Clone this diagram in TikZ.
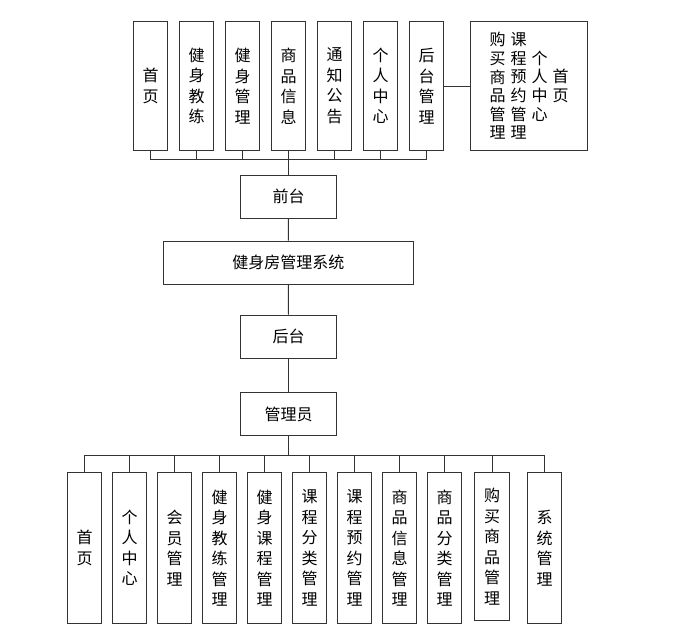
\documentclass[tikz,border=0pt]{standalone}
\usepackage{fontspec}
\setmainfont{Noto Sans CJK SC}
\usetikzlibrary{positioning}

\begin{document}
\begin{tikzpicture}[x=1pt,y=-1pt,
  box/.style={draw=black!80,line width=1pt,fill=white,align=center,inner sep=0pt,
    font=\fontsize{16}{20.5}\selectfont},
  col/.style={box,minimum width=34.5pt,minimum height=128.3pt},
  lowcol/.style={box,minimum width=34.5pt,minimum height=150.6pt},
  mid/.style={box,minimum width=96.4pt,minimum height=43.3pt},
  link/.style={draw=black!80,line width=1pt}]
\useasboundingbox (0,0) rectangle (696,634);
% front end pages
\foreach \i/\x/\t in {1/150.5/{首\\页},2/196.5/{健\\身\\教\\练},3/242.5/{健\\身\\管\\理},
  4/288.5/{商\\品\\信\\息},5/334.5/{通\\知\\公\\告},6/380.5/{个\\人\\中\\心},7/426.5/{后\\台\\管\\理}}
  \node[col] (t\i) at (\x,86) {\t};
\node[box,minimum width=116.3pt,minimum height=128.3pt,font=\fontsize{16}{18.6}\selectfont] (t8) at (529,86)
  {\parbox[c]{16pt}{\centering 购\\买\\商\\品\\管\\理}\hspace{5pt}%
   \parbox[c]{16pt}{\centering 课\\程\\预\\约\\管\\理}\hspace{5pt}%
   \parbox[c]{16pt}{\centering 个\\人\\中\\心}\hspace{5pt}%
   \parbox[c]{16pt}{\centering 首\\页}};
% main column
\node[mid] (qt) at (288.5,196.7) {前台};
\node[mid,minimum width=250pt] (sys) at (288.3,262.7) {健身房管理系统};
\node[mid] (ht) at (288.5,336.7) {后台};
\node[mid] (gly) at (288.5,414.3) {管理员};
% admin functions
\foreach \i/\x/\t in {1/84.5/{首\\页},2/129.5/{个\\人\\中\\心},3/174.5/{会\\员\\管\\理},
  4/219.5/{健\\身\\教\\练\\管\\理},5/264.5/{健\\身\\课\\程\\管\\理},6/309.5/{课\\程\\分\\类\\管\\理},
  7/354.5/{课\\程\\预\\约\\管\\理},8/399.5/{商\\品\\信\\息\\管\\理},9/444.5/{商\\品\\分\\类\\管\\理},
  11/544.7/{系\\统\\管\\理}}
  \node[lowcol] (b\i) at (\x,548) {\t};
\node[lowcol,minimum height=147.3pt] (b10) at (492,546.4) {购\\买\\商\\品\\管\\理};
% connectors
\coordinate (tbus) at (288.5,159);
\coordinate (bbus) at (288.5,455.7);
\foreach \i in {1,...,7}
  \draw[link] (t\i.south) |- (tbus);
\draw[link] (t7.east) -- (t8.west);
\draw[link] (tbus) -- (qt.north);
\draw[link] (qt.south) -- (sys.north);
\draw[link] (sys.south) -- (ht.north);
\draw[link] (ht.south) -- (gly.north);
\draw[link] (gly.south) -- (bbus);
\foreach \i in {1,...,11}
  \draw[link] (b\i.north) |- (bbus);
\end{tikzpicture}
\end{document}
